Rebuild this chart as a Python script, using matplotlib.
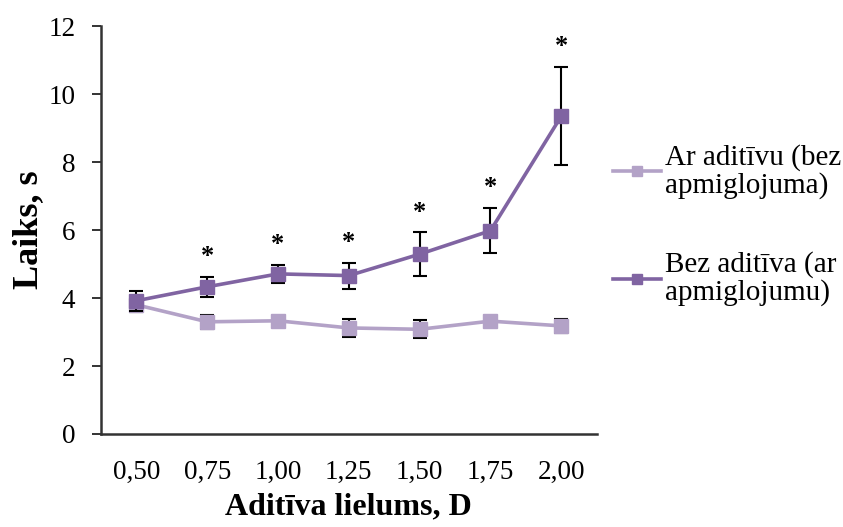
import numpy as np
import matplotlib
matplotlib.use("Agg")
import matplotlib.pyplot as plt

## Data
categories = ["0,50", "0,75", "1,00", "1,25", "1,50", "1,75", "2,00"]
ar_aditivu = [3.80, 3.30, 3.33, 3.12, 3.08, 3.32, 3.18]
ar_aditivu_err = [0.20, 0.21, 0.10, 0.27, 0.26, 0.10, 0.20]
bez_aditiva = [3.92, 4.33, 4.71, 4.66, 5.29, 5.98, 9.35]
bez_aditiva_err = [0.29, 0.29, 0.27, 0.38, 0.64, 0.67, 1.45]
significant = [False, True, True, True, True, True, True]
labels = ['Ar aditīvu (bez\napmiglojuma)', 'Bez aditīva (ar\napmiglojumu)']

plt.rcParams['font.family'] = ['Liberation Serif', 'DejaVu Serif']

light = '#B3A2C7'
dark = '#8064A2'

fig = plt.figure(figsize=(8.43, 5.27), dpi=100)
ax = fig.add_axes([0.1198, 0.1765, 0.588, 0.774])
x = np.arange(len(categories))

l1 = ax.errorbar(x, ar_aditivu, yerr=ar_aditivu_err, color=light, lw=2.6,
                 marker='s', ms=10, ecolor='black', elinewidth=1.5, capsize=5,
                 capthick=1.5, zorder=3)
l2 = ax.errorbar(x, bez_aditiva, yerr=bez_aditiva_err, color=dark, lw=2.6,
                 marker='s', ms=10, ecolor='black', elinewidth=1.5, capsize=5,
                 capthick=1.5, zorder=4)

## Significance stars above the upper error bar
for i, s in enumerate(significant):
    if s:
        ax.text(x[i], bez_aditiva[i] + bez_aditiva_err[i] + 0.6, '*',
                ha='center', va='center', fontsize=19, fontweight='bold')

ax.set_xlim(-0.5, len(categories) - 0.5)
ax.set_ylim(0, 12)
ax.set_yticks(range(0, 13, 2))
ax.set_xticks(x)
ax.set_xticklabels(categories)
ax.tick_params(axis='y', labelsize=19.5, direction='out', length=6.5, width=1.4,
               color='#333333', pad=12)
ax.tick_params(axis='x', labelsize=19.5, length=0, pad=19)
for side in ['top', 'right']:
    ax.spines[side].set_visible(False)
for side in ['left', 'bottom']:
    ax.spines[side].set_linewidth(1.8)
    ax.spines[side].set_color('#333333')

ax.set_ylabel('Laiks, s', fontsize=26, fontweight='bold', labelpad=2)
ax.set_xlabel('Aditīva lielums, D', fontsize=23, fontweight='bold', labelpad=5)

leg = fig.legend([l1.lines[0], l2.lines[0]], labels,
                 loc='upper left', bbox_to_anchor=(0.727, 0.727), frameon=False,
                 fontsize=21, handlelength=1.65, handletextpad=0.14,
                 labelspacing=1.8, markerscale=0.65, borderpad=0, borderaxespad=0)
for t in leg.get_texts():
    t.set_linespacing(1.05)

plt.savefig('out.png', dpi=100)
